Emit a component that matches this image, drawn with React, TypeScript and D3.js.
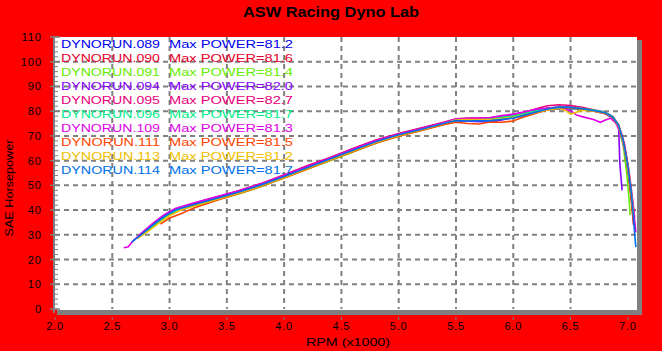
import { FC } from "react";
import * as d3 from "d3";

// run names, colours and max power as printed in the legend
const runNames = ["DYNORUN.089", "DYNORUN.090", "DYNORUN.091", "DYNORUN.094", "DYNORUN.095",
  "DYNORUN.096", "DYNORUN.109", "DYNORUN.111", "DYNORUN.113", "DYNORUN.114"];
const maxPower = ["81.2", "81.6", "81.4", "82.0", "82.7", "81.7", "81.3", "81.5", "81.2", "81.7"];
const runColors = ["#0000ee", "#e8002a", "#66ee00", "#8800ff", "#e8007a",
  "#00ee88", "#e000e8", "#ff4400", "#f0c000", "#0070e8"];

const yTicks = [0, 10, 20, 30, 40, 50, 60, 70, 80, 90, 100, 110];
const xTicks = [2.0, 2.5, 3.0, 3.5, 4.0, 4.5, 5.0, 5.5, 6.0, 6.5, 7.0];

// [rpm x1000, hp]
const run089 = [[2.76,30.5],[2.85,34],[2.95,37.5],[3.05,40.2],[3.2,42.2],[3.4,44.8],[3.6,47.4],[3.8,50.4],[4.0,53.9],[4.2,57.3],[4.4,60.8],[4.6,64.4],[4.8,67.7],[5.0,70.6],[5.2,72.9],[5.4,75.3],[5.5,76.6],[5.6,76.4],[5.8,76.9],[6.0,77.8],[6.1,78.6],[6.2,79.8],[6.3,80.6],[6.4,80.9],[6.5,81.1],[6.6,80.7],[6.7,80.1],[6.8,79.4],[6.86,78],[6.91,75],[6.95,70],[6.99,61],[7.02,50],[7.05,38],[7.06,33]];
const run090 = [[2.8,32],[2.9,35.5],[3.0,38.6],[3.1,40.5],[3.2,41.8],[3.4,44.3],[3.6,46.9],[3.8,49.8],[4.0,53.2],[4.2,56.8],[4.4,60.4],[4.6,63.8],[4.8,67.3],[5.0,70.2],[5.2,72.4],[5.4,74.8],[5.5,76.1],[5.6,76.5],[5.8,76.4],[6.0,77.3],[6.1,78.4],[6.2,79.6],[6.3,80.8],[6.4,81.4],[6.5,81.5],[6.6,81.0],[6.7,80.3],[6.8,79.2],[6.87,77.3],[6.92,73.5],[6.96,67],[7.0,56],[7.03,44],[7.05,34]];
const run091 = [[2.78,31],[2.88,34.5],[2.98,38],[3.1,40.3],[3.2,41.5],[3.4,44],[3.6,46.5],[3.8,49.5],[4.0,53],[4.2,56.5],[4.4,60],[4.6,63.5],[4.8,67],[5.0,70],[5.2,72.3],[5.4,74.7],[5.5,76],[5.6,76.8],[5.8,77],[6.0,77.9],[6.1,78.9],[6.2,80.0],[6.3,80.9],[6.4,81.3],[6.5,81.2],[6.6,80.8],[6.7,80.2],[6.8,79.5],[6.87,77.6],[6.92,74],[6.96,66],[6.99,55],[7.01,45],[7.02,38]];
const run094 = [[2.74,29.5],[2.84,33.5],[2.94,37],[3.04,40],[3.2,42.4],[3.4,45],[3.6,47.6],[3.8,50.6],[4.0,54],[4.2,57.6],[4.4,61],[4.6,64.6],[4.8,68],[5.0,70.8],[5.2,73],[5.4,75.4],[5.5,76.2],[5.6,75.9],[5.8,75.6],[5.9,76.4],[6.0,77.5],[6.1,78.7],[6.2,80.0],[6.3,81.2],[6.4,81.8],[6.5,81.7],[6.6,81.1],[6.7,80.2],[6.8,79.0],[6.87,77],[6.92,73.5],[6.93,59],[6.95,48]];
const run095 = [[2.72,29],[2.82,33],[2.92,36.5],[3.02,39.5],[3.2,42.6],[3.4,45.2],[3.6,47.8],[3.8,50.8],[4.0,54.3],[4.2,57.9],[4.4,61.3],[4.6,64.9],[4.8,68.3],[5.0,71],[5.2,73.3],[5.4,75.6],[5.5,76.9],[5.6,77.2],[5.8,77.3],[6.0,78.4],[6.1,79.6],[6.2,81.0],[6.3,82.2],[6.4,82.6],[6.5,82.3],[6.6,81.6],[6.7,80.6],[6.8,79.7],[6.87,77.8],[6.92,74.5],[6.97,67],[7.01,56],[7.04,45],[7.06,37]];
const run096 = [[2.77,30.5],[2.87,34],[2.97,37.5],[3.07,40],[3.2,41.9],[3.4,44.4],[3.6,47],[3.8,50],[4.0,53.4],[4.2,57],[4.4,60.6],[4.6,64.1],[4.8,67.4],[5.0,70.4],[5.2,72.6],[5.4,75],[5.5,76.3],[5.6,76.7],[5.8,77.2],[6.0,78.1],[6.1,79.1],[6.2,80.3],[6.3,81.2],[6.4,81.6],[6.5,81.5],[6.6,81.1],[6.7,80.5],[6.8,79.6],[6.87,77.7],[6.92,74.2],[6.96,67],[7.0,57],[7.03,46],[7.05,38]];
const run109 = [[2.6,24.8],[2.64,25.2],[2.68,27.5],[2.75,30.5],[2.85,34.5],[2.95,38],[3.05,40.6],[3.2,42.8],[3.4,45.3],[3.6,47.7],[3.8,50.6],[4.0,54],[4.2,57.5],[4.4,61],[4.6,64.6],[4.8,68],[5.0,70.7],[5.2,73],[5.4,75.4],[5.5,76.8],[5.6,77],[5.8,77.4],[5.9,78.2],[6.0,78.8],[6.1,79.8],[6.2,80.8],[6.3,81.3],[6.4,81.2],[6.5,80.2],[6.55,78.5],[6.6,77.8],[6.7,76.6],[6.76,75.5],[6.8,76.3],[6.85,77.2],[6.9,75],[6.95,69],[6.99,60],[7.02,50],[7.05,40],[7.07,31]];
const run111 = [[2.92,34.3],[3.0,36.8],[3.1,38.5],[3.2,40.6],[3.4,43.8],[3.6,46.6],[3.8,49.6],[4.0,53],[4.2,56.5],[4.4,60.2],[4.6,63.6],[4.8,67],[5.0,69.9],[5.2,72.2],[5.4,74.6],[5.5,75.5],[5.6,75],[5.7,74.8],[5.8,75.6],[5.9,75.5],[6.0,76],[6.1,77.8],[6.2,79.2],[6.3,80.6],[6.4,81.3],[6.5,81.4],[6.6,80.9],[6.7,80.0],[6.8,79.1],[6.87,77.3],[6.92,73.8],[6.96,67.5],[7.0,57],[7.03,45],[7.05,35]];
const run113 = [[2.72,28.5],[2.8,31],[2.9,34.5],[3.0,37.8],[3.1,40],[3.2,41.6],[3.4,44.2],[3.6,46.8],[3.8,49.8],[4.0,53.2],[4.2,56.8],[4.4,60.4],[4.6,63.9],[4.8,67.3],[5.0,70.2],[5.2,72.5],[5.4,75],[5.5,76.5],[5.6,76.6],[5.8,76.6],[6.0,77.5],[6.1,78.5],[6.2,79.6],[6.3,80.5],[6.4,81.1],[6.45,80.4],[6.5,78.8],[6.55,79.6],[6.6,80.4],[6.7,80.1],[6.8,79.3],[6.87,77.4],[6.92,74],[6.96,67.5],[7.0,58],[7.03,47],[7.05,38]];
const run114 = [[2.67,27],[2.75,30],[2.85,33.8],[2.95,37.3],[3.05,40],[3.2,42.1],[3.4,44.6],[3.6,47.2],[3.8,50.2],[4.0,53.6],[4.2,57.1],[4.4,60.7],[4.6,64.2],[4.8,67.6],[5.0,70.5],[5.2,72.7],[5.4,75.1],[5.5,76.2],[5.6,76],[5.8,76.2],[6.0,77.2],[6.1,78.4],[6.2,79.7],[6.3,80.9],[6.4,81.6],[6.5,81.5],[6.6,81.0],[6.7,80.3],[6.8,79.4],[6.87,77.5],[6.92,74.2],[6.96,68],[7.0,58],[7.03,47],[7.05,37],[7.06,30],[7.07,25]];

const runs = [run089, run090, run091, run094, run095, run096, run109, run111, run113, run114];

const width = 662;
const height = 351;
const left = 55, right = 637, top = 37, bottom = 309;
const font = "'Liberation Sans', Arial, sans-serif";

const App: FC = () => {
  const x = d3.scaleLinear().domain([2, 7.08]).range([left, right]);
  const y = d3.scaleLinear().domain([0, 110]).range([bottom, top]);
  const line = d3.line<number[]>().x(d => x(d[0])).y(d => y(d[1]));
  const minorY = d3.range(0, 111, 2);

  return (
    <svg width={width} height={height} style={{ position: "absolute", left: 0, top: 0, background: "#ff0000" }}>
      <rect x={0} y={0} width={width} height={height} fill="#ff0000" />
      <text x={331} y={17} textAnchor="middle" fontFamily={font} fontWeight="bold" fontSize={15}
        textLength={176} lengthAdjust="spacingAndGlyphs">ASW Racing Dyno Lab</text>

      {/* plot area with grey shadow frame */}
      <rect x={right} y={top + 3} width={5} height={bottom - top + 3} fill="#808080" />
      <rect x={left + 2} y={bottom + 1} width={right - left + 3} height={5} fill="#808080" />
      <rect x={left} y={top} width={right - left} height={bottom - top + 1} fill="#ffffff" />

      {/* grid */}
      {yTicks.filter(t => t > 0 && t < 110).map(t => (
        <line key={"gy" + t} x1={left} x2={right} y1={y(t)} y2={y(t)} stroke="#808080" strokeWidth={2} strokeDasharray="5,4" />
      ))}
      {xTicks.filter(t => t > 2 && t < 7).map(t => (
        <line key={"gx" + t} x1={x(t)} x2={x(t)} y1={top} y2={bottom} stroke="#808080" strokeWidth={2} strokeDasharray="5,4" />
      ))}

      {/* left axis */}
      <line x1={left - 1} x2={left - 1} y1={top} y2={bottom + 4} stroke="#808080" strokeWidth={2} />
      {minorY.map(t => (
        <line key={"my" + t} x1={left - 1} x2={left + 3} y1={y(t)} y2={y(t)} stroke="#808080" strokeWidth={1} />
      ))}
      {yTicks.map(t => (
        <g key={"ty" + t}>
          <line x1={left - 5} x2={left + 5} y1={y(t)} y2={y(t)} stroke="#808080" strokeWidth={1.5} />
          <text x={42} y={y(t) + 4} textAnchor="end" fontFamily={font} fontSize={11} letterSpacing={1}>{t}</text>
        </g>
      ))}
      {xTicks.map(t => (
        <g key={"tx" + t}>
          <line x1={x(t)} x2={x(t)} y1={bottom + 8} y2={bottom + 11} stroke="#808080" strokeWidth={1} />
          <text x={x(t)} y={330} textAnchor="middle" fontFamily={font} fontSize={11} letterSpacing={0.8}>{t.toFixed(1)}</text>
        </g>
      ))}
      <text x={348} y={346} textAnchor="middle" fontFamily={font} fontSize={11} textLength={84} lengthAdjust="spacingAndGlyphs">RPM (x1000)</text>
      <text transform="translate(13,188) rotate(-90)" textAnchor="middle" fontFamily={font} fontSize={11}
        textLength={97} lengthAdjust="spacingAndGlyphs">SAE Horsepower</text>

      {/* curves */}
      {runs.map((r, i) => (
        <path key={"run" + i} d={line(r) || ""} fill="none" stroke={runColors[i]} strokeWidth={1.6} />
      ))}

      {/* legend */}
      {runNames.map((n, i) => (
        <g key={"lg" + i} fontFamily={font} fontSize={10.5} fill={runColors[i]}>
          <text x={61} y={48 + i * 14} textLength={99} lengthAdjust="spacingAndGlyphs">{n}</text>
          <text x={169} y={48 + i * 14} textLength={124} lengthAdjust="spacingAndGlyphs">{"Max POWER=" + maxPower[i]}</text>
        </g>
      ))}
    </svg>
  );
};

export default App;
